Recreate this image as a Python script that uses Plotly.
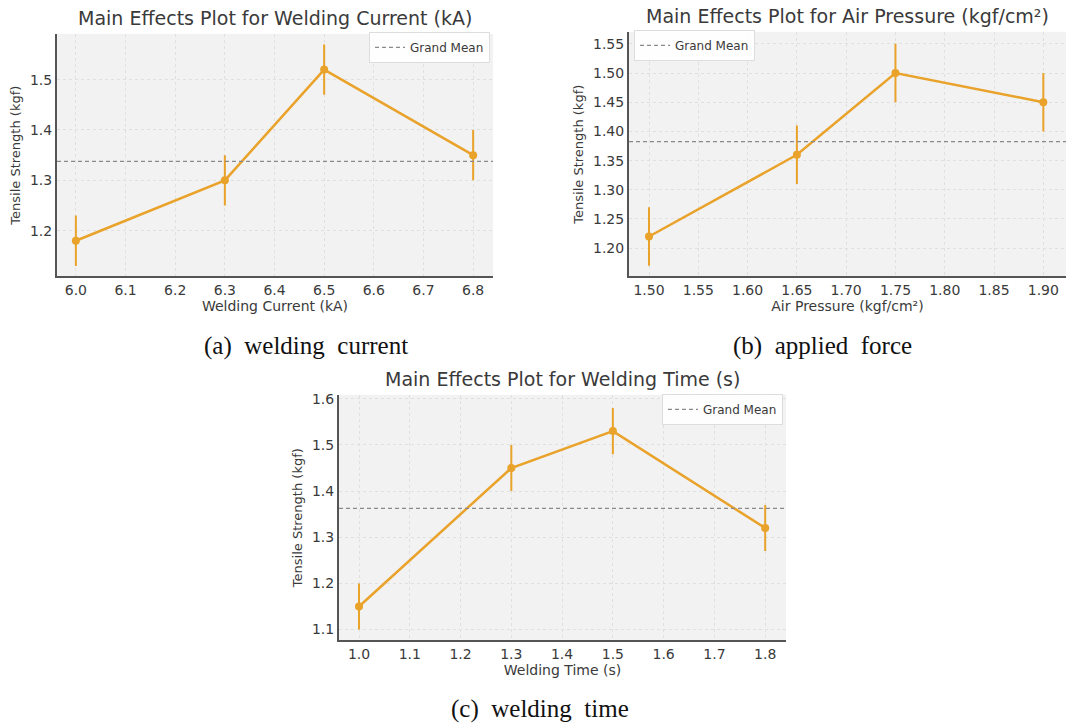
import numpy as np
import plotly.graph_objects as go

# ---- data ----
current_levels = [6.0, 6.3, 6.5, 6.8]
current_means = [1.18, 1.30, 1.52, 1.35]
current_err = [0.05, 0.05, 0.05, 0.05]

pressure_levels = [1.50, 1.65, 1.75, 1.90]
pressure_means = [1.22, 1.36, 1.50, 1.45]
pressure_err = [0.05, 0.05, 0.05, 0.05]

time_levels = [1.0, 1.3, 1.5, 1.8]
time_means = [1.15, 1.45, 1.53, 1.32]
time_err = [0.05, 0.05, 0.05, 0.05]

titles = ["Main Effects Plot for Welding Current (kA)",
          "Main Effects Plot for Air Pressure (kgf/cm²)",
          "Main Effects Plot for Welding Time (s)"]
xtitles = ["Welding Current (kA)", "Air Pressure (kgf/cm²)", "Welding Time (s)"]
captions = ["(a)\u00a0 welding\u00a0 current", "(b)\u00a0 applied\u00a0 force",
            "(c)\u00a0 welding\u00a0 time"]

W, H = 1068, 724
ORANGE = "#E9A22A"
TXT = "#3a3a3a"

def px_x(p):
    return p / W

def px_y(p):
    return 1 - p / H

panels = [
    dict(x=current_levels, y=current_means, e=current_err,
         dom=(57, 493, 30, 274), xr=[5.962, 6.84], yr=[1.109, 1.591],
         xt=dict(dtick=0.1, tickformat=".1f"), yt=dict(dtick=0.1, tickformat=".1f"),
         leg=dict(x=px_x(490), y=px_y(28), xanchor="right", yanchor="top")),
    dict(x=pressure_levels, y=pressure_means, e=pressure_err,
         dom=(629, 1066, 28, 274), xr=[1.4797, 1.923], yr=[1.1515, 1.5706],
         xt=dict(dtick=0.05, tickformat=".2f"), yt=dict(dtick=0.05, tickformat=".2f"),
         leg=dict(x=px_x(634), y=px_y(26), xanchor="left", yanchor="top")),
    dict(x=time_levels, y=time_means, e=time_err,
         dom=(339, 786, 393, 640), xr=[0.9606, 1.841], yr=[1.0763, 1.6086],
         xt=dict(dtick=0.1, tickformat=".1f"), yt=dict(dtick=0.1, tickformat=".1f"),
         leg=dict(x=px_x(783), y=px_y(392), xanchor="right", yanchor="top")),
]

fig = go.Figure()
layout = dict(width=W, height=H, margin=dict(l=0, r=0, t=0, b=0),
              paper_bgcolor="white", plot_bgcolor="#f2f2f2",
              font=dict(family="DejaVu Sans", color=TXT), annotations=[])

for i, p in enumerate(panels):
    n = "" if i == 0 else str(i + 1)
    xa, ya = "x" + n, "y" + n
    legname = "legend" + n
    gm = float(np.mean(p["y"]))
    fig.add_trace(go.Scatter(
        x=p["x"], y=p["y"], mode="lines+markers",
        line=dict(color=ORANGE, width=2.5), marker=dict(color=ORANGE, size=8),
        error_y=dict(type="data", array=p["e"], color=ORANGE, thickness=2, width=0),
        xaxis=xa, yaxis=ya, showlegend=False))
    fig.add_trace(go.Scatter(
        x=p["xr"], y=[gm, gm], mode="lines", name="Grand Mean",
        line=dict(color="#8a8a8a", width=1.3, dash="4px,3px"),
        xaxis=xa, yaxis=ya, legend=legname, showlegend=True))
    l, r, t, b = p["dom"]
    common = dict(showline=True, linecolor="#555555", linewidth=2, mirror=False,
                  showgrid=True, gridcolor="#e0e0e0", griddash="dot", gridwidth=1,
                  ticks="", tickfont=dict(size=14, color=TXT), zeroline=False)
    layout["xaxis" + n] = dict(domain=[px_x(l), px_x(r)], range=p["xr"],
                               anchor=ya, tick0=0, **p["xt"], **common,
                               title=dict(text=xtitles[i], font=dict(size=14, color=TXT), standoff=2))
    layout["yaxis" + n] = dict(domain=[px_y(b), px_y(t)], range=p["yr"],
                               anchor=xa, tick0=0, **p["yt"], **common,
                               title=dict(text="Tensile Strength (kgf)", font=dict(size=13, color=TXT), standoff=6))
    layout[legname] = dict(**p["leg"], xref="paper", yref="paper",
                           bgcolor="rgba(255,255,255,0.9)", bordercolor="#dddddd", borderwidth=1,
                           font=dict(size=12, color=TXT), itemwidth=30)
    layout["annotations"].append(dict(
        text=titles[i], x=px_x((l + r) / 2), y=px_y(t - 3), xref="paper", yref="paper",
        xanchor="center", yanchor="bottom", showarrow=False,
        font=dict(size=19, color=TXT, family="DejaVu Sans")))

cap_pos = [(306, 344), (822, 344), (540, 709)]
for i, (cx, cy) in enumerate(cap_pos):
    layout["annotations"].append(dict(
        text=captions[i], x=px_x(cx), y=px_y(cy), xref="paper", yref="paper",
        xanchor="center", yanchor="middle", showarrow=False,
        font=dict(size=25, color="#111111", family="Liberation Serif")))

fig.update_layout(**layout)
fig.write_html("out.html", config={"displayModeBar": False},
               post_script="document.body.style.margin='0';document.body.style.overflow='hidden';")
